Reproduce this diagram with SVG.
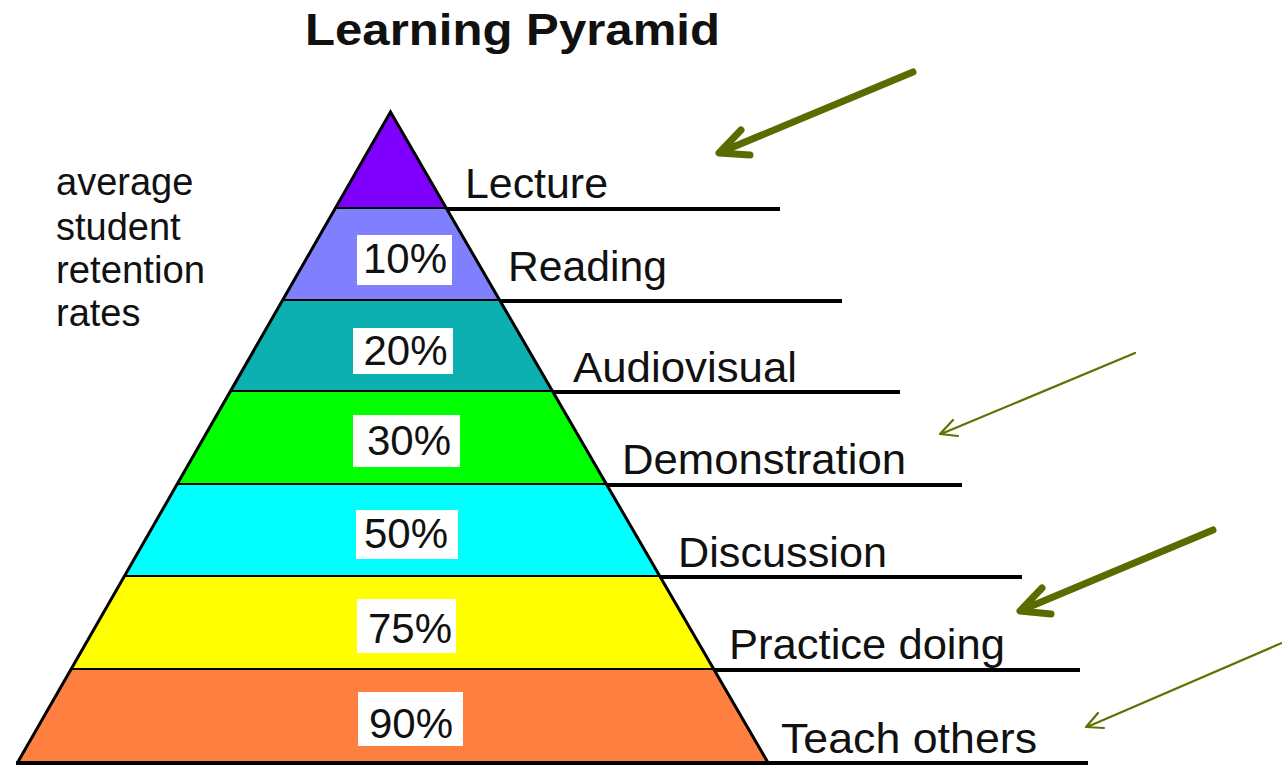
<svg xmlns="http://www.w3.org/2000/svg" width="1282" height="765" viewBox="0 0 1282 765">
<style>
text{font-family:"Liberation Sans",Arial,sans-serif;fill:#111;}
.title{font-size:44px;font-weight:bold;}
.lbl{font-size:43px;}
.side{font-size:38px;}
.pct{font-size:42px;text-anchor:middle;}
.box{fill:#fff;}
.rule{stroke:#000;stroke-width:4;fill:none;}
.edge{stroke:#000;stroke-width:3;fill:none;stroke-linejoin:miter;}
.thick{stroke:#5a6b00;stroke-width:7;fill:none;stroke-linecap:round;stroke-linejoin:round;}
.thin{stroke:#5f7100;stroke-width:2.2;fill:none;stroke-linecap:round;stroke-linejoin:round;}
</style>
<rect width="1282" height="765" fill="#fff"/>
<text class="title" x="305" y="45" textLength="415" lengthAdjust="spacingAndGlyphs">Learning Pyramid</text>
<g id="side-label">
<text class="side" x="56" y="195">average</text>
<text class="side" x="56" y="240">student</text>
<text class="side" x="56" y="283" textLength="149" lengthAdjust="spacingAndGlyphs">retention</text>
<text class="side" x="56" y="326">rates</text>
</g>
<g id="band-lecture">
<polygon points="390.5,112 446.4,209 335.3,209" fill="#8000ff"/>
<line class="rule" x1="335" y1="209" x2="780" y2="209"/>
<text class="lbl" x="465" y="198" textLength="143" lengthAdjust="spacingAndGlyphs">Lecture</text>
</g>
<g id="band-reading">
<polygon points="335.3,209 446.4,209 499.8,301 282.5,301" fill="#8080ff"/>
<rect class="box" x="357" y="235" width="95" height="50"/>
<text class="pct" x="405" y="273">10%</text>
<line class="rule" x1="282" y1="301" x2="842" y2="301"/>
<text class="lbl" x="508" y="281" textLength="159" lengthAdjust="spacingAndGlyphs">Reading</text>
</g>
<g id="band-audiovisual">
<polygon points="282.5,301 499.8,301 552.7,392 230.3,392" fill="#0cb0b0"/>
<rect class="box" x="353" y="328" width="100" height="46"/>
<text class="pct" x="405.5" y="365">20%</text>
<line class="rule" x1="230" y1="392" x2="900" y2="392"/>
<text class="lbl" x="573" y="382" textLength="224" lengthAdjust="spacingAndGlyphs">Audiovisual</text>
</g>
<g id="band-demonstration">
<polygon points="230.3,392 552.7,392 606.7,485 176.9,485" fill="#00ff00"/>
<rect class="box" x="353" y="415" width="107" height="52"/>
<text class="pct" x="409" y="455">30%</text>
<line class="rule" x1="177" y1="485" x2="962" y2="485"/>
<text class="lbl" x="622" y="474" textLength="284" lengthAdjust="spacingAndGlyphs">Demonstration</text>
</g>
<g id="band-discussion">
<polygon points="176.9,485 606.7,485 660.2,577 124.1,577" fill="#00ffff"/>
<rect class="box" x="356" y="510" width="102" height="49"/>
<text class="pct" x="406" y="548">50%</text>
<line class="rule" x1="124" y1="577" x2="1022" y2="577"/>
<text class="lbl" x="678" y="567" textLength="209" lengthAdjust="spacingAndGlyphs">Discussion</text>
</g>
<g id="band-practice">
<polygon points="124.1,577 660.2,577 714.2,670 70.7,670" fill="#ffff00"/>
<rect class="box" x="357" y="599" width="99" height="54"/>
<text class="pct" x="410" y="643">75%</text>
<line class="rule" x1="70" y1="670" x2="1080" y2="670"/>
<text class="lbl" x="729" y="659" textLength="276" lengthAdjust="spacingAndGlyphs">Practice doing</text>
</g>
<g id="band-teach">
<polygon points="70.7,670 714.2,670 768.2,763 17.3,763" fill="#ff7f40"/>
<rect class="box" x="358" y="692" width="105" height="54"/>
<text class="pct" x="411" y="738">90%</text>
<line class="rule" x1="16" y1="763" x2="1088" y2="763"/>
<text class="lbl" x="781" y="753" textLength="256" lengthAdjust="spacingAndGlyphs">Teach others</text>
</g>
<g id="outline">
<polyline class="edge" points="17.3,763 390.5,112 768.2,763"/>
</g>
<g id="connectors">
<path class="thick" d="M913,72 L721,152 M741,130 L719,153 L750,155"/>
<path class="thin" d="M1135,353 L941,434 M953,420 L940,434 L958,436"/>
<path class="thick" d="M1213,530 L1022,610 M1042,588 L1020,611 L1051,614"/>
<path class="thin" d="M1284,642 L1087,727 M1098,713 L1086,727 L1104,728"/>
</g>
</svg>
